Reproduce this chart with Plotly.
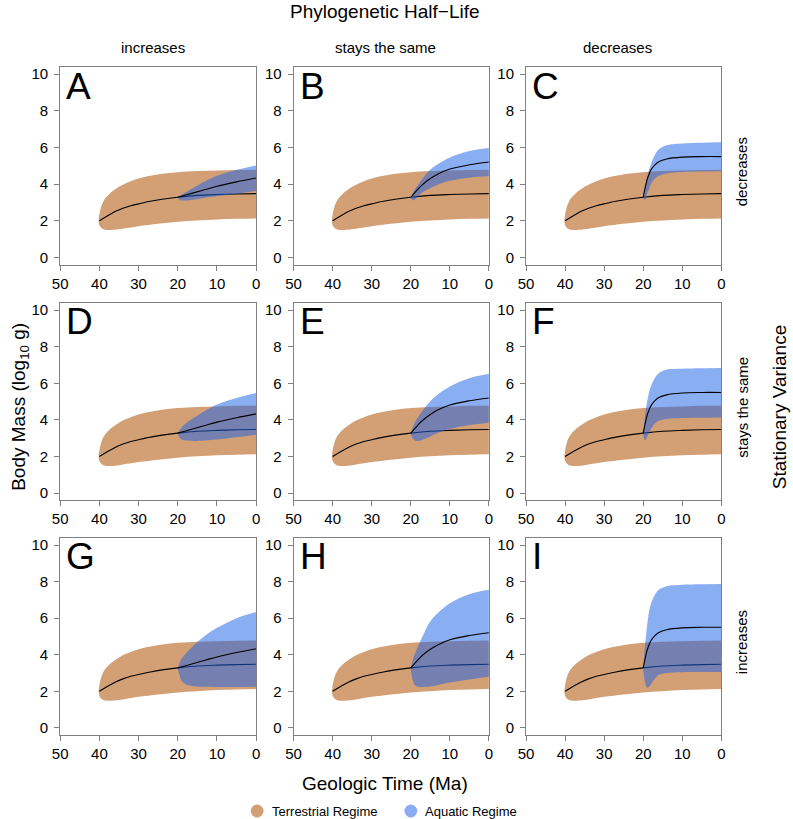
import plotly.graph_objects as go

# terrestrial regime (same in every panel)
terr_t_upper = [40.2, 40, 39.5, 39, 38.5, 37.5, 36.5, 35, 33.5, 32, 30, 27, 24, 20, 15, 10, 5, 0]
terr_upper = [2.0, 2.35, 2.8, 3.05, 3.22, 3.45, 3.63, 3.85, 4.02, 4.15, 4.3, 4.45, 4.56, 4.65, 4.71, 4.74, 4.77, 4.78]
terr_t_lower = [40.2, 40, 39.5, 39, 38, 37, 35, 33, 30, 25, 20, 15, 10, 5, 0]
terr_lower = [2.0, 1.75, 1.6, 1.53, 1.49, 1.49, 1.53, 1.6, 1.7, 1.83, 1.94, 2.01, 2.07, 2.1, 2.12]
terr_t_mean = [40, 38, 36, 34, 32, 30, 27, 24, 20, 15, 10, 5, 0]
terr_mean = [2.0, 2.26, 2.5, 2.68, 2.82, 2.92, 3.06, 3.17, 3.28, 3.38, 3.43, 3.46, 3.48]

# aquatic regime, time grid and mean by half-life column
aq_t_inc = [20, 19.5, 19, 18, 16, 13, 10, 5, 0]
aq_t_same = [20, 19.5, 19, 18, 17, 15, 13, 10, 5, 0]
aq_t_dec = [20, 19.5, 19, 18.5, 18, 17, 16, 14, 10, 5, 0]
aq_mean_inc = [3.28, 3.31, 3.34, 3.4, 3.52, 3.7, 3.88, 4.12, 4.33]
aq_mean_same = [3.28, 3.4, 3.52, 3.76, 3.97, 4.3, 4.55, 4.82, 5.05, 5.2]
aq_mean_dec = [3.28, 3.8, 4.25, 4.55, 4.78, 5.05, 5.22, 5.37, 5.47, 5.5, 5.5]

# aquatic bands per panel
upper_A = [3.3, 3.36, 3.42, 3.55, 3.8, 4.15, 4.45, 4.78, 5.02]
lower_A = [3.22, 3.12, 3.1, 3.1, 3.15, 3.25, 3.33, 3.47, 3.62]
upper_B = [3.3, 3.5, 3.7, 4.0, 4.3, 4.8, 5.1, 5.45, 5.8, 5.97]
lower_B = [3.22, 3.12, 3.15, 3.35, 3.55, 3.77, 3.98, 4.18, 4.35, 4.42]
upper_C = [3.3, 3.9, 4.35, 4.8, 5.1, 5.6, 5.9, 6.12, 6.22, 6.26, 6.28]
lower_C = [3.22, 3.14, 3.5, 3.75, 4.0, 4.3, 4.45, 4.58, 4.66, 4.69, 4.7]
upper_D = [3.3, 3.45, 3.6, 3.8, 4.1, 4.5, 4.84, 5.2, 5.47]
lower_D = [3.22, 3.03, 2.93, 2.87, 2.85, 2.88, 2.93, 3.05, 3.19]
upper_E = [3.3, 3.6, 3.85, 4.2, 4.5, 5.02, 5.4, 5.83, 6.28, 6.52]
lower_E = [3.22, 3.0, 2.88, 2.85, 2.92, 3.1, 3.3, 3.5, 3.72, 3.85]
upper_F = [3.3, 4.3, 5.0, 5.5, 5.85, 6.3, 6.55, 6.75, 6.8, 6.82, 6.83]
lower_F = [3.22, 2.88, 3.1, 3.3, 3.5, 3.8, 3.95, 4.05, 4.1, 4.12, 4.13]
upper_G = [3.3, 3.57, 3.8, 4.05, 4.5, 5.05, 5.47, 6.0, 6.34]
lower_G = [3.22, 2.85, 2.55, 2.38, 2.28, 2.25, 2.24, 2.24, 2.25]
upper_H = [3.3, 3.7, 4.02, 4.55, 5.0, 5.83, 6.3, 6.82, 7.31, 7.55]
lower_H = [3.22, 2.6, 2.35, 2.25, 2.24, 2.26, 2.35, 2.48, 2.65, 2.8]
upper_I = [3.3, 4.6, 5.6, 6.37, 6.8, 7.28, 7.55, 7.75, 7.83, 7.86, 7.87]
lower_I = [3.22, 2.45, 2.2, 2.25, 2.4, 2.7, 2.9, 3.0, 3.04, 3.05, 3.06]

col_labels = ["increases", "stays the same", "decreases"]
row_labels = ["decreases", "stays the same", "increases"]
letters = ["A", "B", "C", "D", "E", "F", "G", "H", "I"]
x_ticks = [0, 10, 20, 30, 40, 50]
y_ticks = [0, 2, 4, 6, 8, 10]

TAN = "rgb(211,160,117)"
BLUE = "rgba(30,100,230,0.52)"
BLUE_KEY = "rgb(138,172,240)"
GRAY = "#808080"
FONT = "Liberation Sans, Arial, sans-serif"
W, H = 793, 819

cols = [(aq_t_inc, aq_mean_inc), (aq_t_same, aq_mean_same), (aq_t_dec, aq_mean_dec)]
bands = [(upper_A, lower_A), (upper_B, lower_B), (upper_C, lower_C),
         (upper_D, lower_D), (upper_E, lower_E), (upper_F, lower_F),
         (upper_G, lower_G), (upper_H, lower_H), (upper_I, lower_I)]

x_dom = [(53, 252), (290, 488.3), (526, 724.3)]
y_dom = [(66, 264.3), (302.5, 500.7), (538, 736)]

fig = go.Figure()
annotations = []
for i in range(9):
    r, c = divmod(i, 3)
    n = "" if i == 0 else str(i + 1)
    xa, ya = "x" + n, "y" + n
    t_aq, m_aq = cols[c]
    up, lo = bands[i]
    common = dict(xaxis=xa, yaxis=ya, mode="lines", hoverinfo="skip", showlegend=False)
    fig.add_trace(go.Scatter(x=terr_t_lower, y=terr_lower, line=dict(width=0, shape="spline"), **common))
    fig.add_trace(go.Scatter(x=terr_t_upper, y=terr_upper, line=dict(width=0, shape="spline"),
                             fill="tonexty", fillcolor=TAN, **common))
    fig.add_trace(go.Scatter(x=terr_t_mean, y=terr_mean, line=dict(width=1.1, color="black", shape="spline"), **common))
    fig.add_trace(go.Scatter(x=t_aq, y=lo, line=dict(width=0, shape="spline"), **common))
    fig.add_trace(go.Scatter(x=t_aq, y=up, line=dict(width=0, shape="spline"),
                             fill="tonexty", fillcolor=BLUE, **common))
    fig.add_trace(go.Scatter(x=t_aq, y=m_aq, line=dict(width=1.1, color="black", shape="spline"), **common))

    axis_common = dict(showline=True, mirror=True, linecolor=GRAY, linewidth=1,
                       ticks="outside", ticklen=5, tickcolor=GRAY, tickwidth=1,
                       showgrid=False, zeroline=False, tickfont=dict(size=15, color="black", family=FONT))
    fig.layout["xaxis" + n] = dict(domain=[x_dom[c][0] / W, x_dom[c][1] / W], anchor=ya,
                                   range=[50, 0], tickvals=x_ticks, **axis_common)
    fig.layout["yaxis" + n] = dict(domain=[1 - y_dom[r][1] / H, 1 - y_dom[r][0] / H], anchor=xa,
                                   range=[-0.4, 10.4], tickvals=y_ticks, ticklabelstandoff=3, **axis_common)
    annotations.append(dict(text=letters[i], xref=xa + " domain", yref=ya + " domain",
                            x=0.02, y=0.903, xanchor="left", yanchor="middle", showarrow=False,
                            font=dict(size=37, color="black", family=FONT)))

def px(x, y):
    return x / W, 1 - y / H

def label(text, x, y, size, angle=0, xanchor="center"):
    ax, ay = px(x, y)
    annotations.append(dict(text=text, xref="paper", yref="paper", x=ax, y=ay, xanchor=xanchor,
                            yanchor="middle", textangle=angle, showarrow=False,
                            font=dict(size=size, color="black", family=FONT)))

label("Phylogenetic Half\u2212Life", 383, 11, 19)
for k, t in enumerate(col_labels):
    label(t, [147, 383, 619][k], 47, 15)
for k, t in enumerate(row_labels):
    label(t, 745, [171, 407, 643][k], 15, -90)
label("Stationary Variance", 783, 407, 19, -90)
label("Body Mass (log<sub>10</sub> g)", 12, 407, 19, -90)
label("Geologic Time (Ma)", 383, 784, 19)
label("Terrestrial Regime", 266, 812, 13, xanchor="left")
label("Aquatic Regime", 421, 812, 13, xanchor="left")

shapes = []
for cx, col in [(253, TAN), (409, BLUE_KEY)]:
    x0, y0 = px(cx - 6.5, 812 + 6.5)
    x1, y1 = px(cx + 6.5, 812 - 6.5)
    shapes.append(dict(type="circle", xref="paper", yref="paper", x0=x0, y0=y0, x1=x1, y1=y1,
                       fillcolor=col, line=dict(width=0)))

fig.update_layout(width=W, height=H, margin=dict(l=0, r=0, t=0, b=0),
                  paper_bgcolor="white", plot_bgcolor="white",
                  font=dict(family=FONT, color="black"),
                  annotations=annotations, shapes=shapes, showlegend=False)
# page margin off so the figure sits at the window's top-left corner
fig.write_html("out.html", config={"displayModeBar": False},
               post_script="document.body.style.margin='0';document.body.style.overflow='hidden';")
